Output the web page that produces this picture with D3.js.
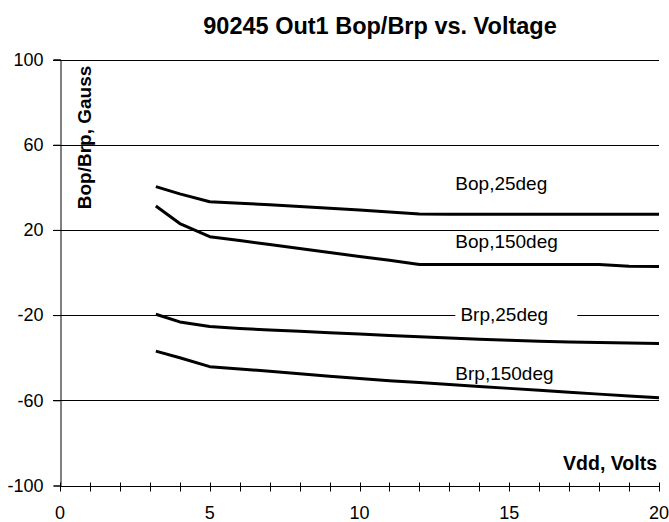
<!DOCTYPE html>
<html lang="en">
<head>
    <meta charset="UTF-8">
    <style>
        body { margin: 0; background: #fff; }
        text { font-family: "Liberation Sans", Arial, sans-serif; }
    </style>
</head>
<body>
    <script src="https://d3js.org/d3.v7.min.js"></script>
    <div id="here"></div>

    <script>
        const vdd = [3.2, 4, 5, 6, 7, 8, 9, 10, 11, 12, 13, 14, 15, 16, 17, 18, 19, 20];
        const bop25  = [40.3, 36.9, 33.2, 32.5, 31.8, 31.0, 30.2, 29.3, 28.4, 27.5, 27.4, 27.3, 27.3, 27.3, 27.3, 27.3, 27.3, 27.3];
        const bop150 = [31.2, 23.0, 16.8, 15.0, 13.1, 11.3, 9.4, 7.5, 5.7, 3.8, 3.8, 3.8, 3.8, 3.8, 3.8, 3.7, 2.9, 2.8];
        const brp25  = [-19.6, -23.2, -25.4, -26.3, -27.0, -27.6, -28.3, -28.9, -29.6, -30.2, -30.8, -31.3, -31.8, -32.3, -32.6, -32.9, -33.1, -33.3];
        const brp150 = [-36.9, -40.0, -44.2, -45.3, -46.4, -47.5, -48.7, -49.8, -50.8, -51.7, -52.6, -53.5, -54.4, -55.3, -56.2, -57.1, -58.0, -58.8];

        const seriesNames = ["Bop,25deg", "Bop,150deg", "Brp,25deg", "Brp,150deg"];
        const seriesValues = [bop25, bop150, brp25, brp150];
        // where each label sits, in data units (volts, gauss)
        const labelVdd = [13.2, 13.2, 13.37, 13.2];
        const labelGauss = [38.7, 11.4, -23, -50.5];

        const yTicks = [-100, -60, -20, 20, 60, 100];
        const xTicks = [0, 5, 10, 15, 20];

        const W = 669, H = 522;
        const margin = {top: 59.5, right: 10, bottom: 36.5, left: 60};

        const svg = d3.select("#here")
            .append("svg")
                .attr("width", W)
                .attr("height", H);

        const x = d3.scaleLinear()
            .domain([0, 20])
            .range([margin.left, W - margin.right]);

        const y = d3.scaleLinear()
            .domain([-100, 100])
            .range([H - margin.bottom, margin.top]);

        // title
        svg.append("text")
            .attr("x", 380)
            .attr("y", 34)
            .attr("text-anchor", "middle")
            .style("font-size", "23.5px")
            .style("font-weight", "bold")
            .text("90245 Out1 Bop/Brp vs. Voltage");

        // horizontal gridlines
        svg.append("g")
            .selectAll("line")
            .data(yTicks.filter(d => d > -100))
            .join("line")
                .attr("x1", margin.left - 7)
                .attr("x2", x(20))
                .attr("y1", d => Math.round(y(d)) + 0.5)
                .attr("y2", d => Math.round(y(d)) + 0.5)
                .attr("stroke", "#000")
                .attr("stroke-width", 1);

        // y axis (plain hyphen minus like the original)
        const yAxis = svg.append("g")
            .attr("transform", `translate(${margin.left + 0.5},0)`)
            .call(d3.axisLeft(y).tickValues(yTicks).tickSize(7).tickPadding(10).tickFormat(d => String(d)));
        yAxis.select(".domain").attr("stroke", "#000");
        yAxis.selectAll("text")
            .style("font-size", "18px")
            .attr("fill", "#000");

        // x axis with crossing minor ticks
        const xAxisY = Math.round(y(-100)) + 0.5;
        const xAxis = svg.append("g")
            .attr("transform", `translate(0,${xAxisY})`);
        xAxis.append("line")
            .attr("x1", x(0)).attr("x2", x(20))
            .attr("stroke", "#000");
        xAxis.selectAll("line.tk")
            .data(d3.range(0, 21))
            .join("line")
                .attr("class", "tk")
                .attr("x1", d => Math.round(x(d)) + 0.5)
                .attr("x2", d => Math.round(x(d)) + 0.5)
                .attr("y1", -4)
                .attr("y2", 5)
                .attr("stroke", "#000");
        xAxis.selectAll("text")
            .data(xTicks)
            .join("text")
                .attr("x", d => x(d))
                .attr("y", 32)
                .attr("text-anchor", "middle")
                .style("font-size", "18px")
                .text(d => d);

        // axis titles
        svg.append("text")
            .attr("transform", `translate(91,137.5) rotate(-90)`)
            .attr("text-anchor", "middle")
            .style("font-size", "19px")
            .style("font-weight", "bold")
            .text("Bop/Brp, Gauss");

        svg.append("text")
            .attr("x", 657)
            .attr("y", 470)
            .attr("text-anchor", "end")
            .style("font-size", "19.5px")
            .style("font-weight", "bold")
            .text("Vdd, Volts");

        // curves
        const line = d3.line()
            .x(d => x(d[0]))
            .y(d => y(d[1]));

        svg.append("g")
            .selectAll("path")
            .data(seriesValues)
            .join("path")
                .attr("d", vals => line(vdd.map((v, i) => [v, vals[i]])))
                .attr("fill", "none")
                .attr("stroke", "#000")
                .attr("stroke-width", 3)
                .attr("stroke-linejoin", "round");

        // series labels; Brp,25deg sits on the -20 gridline with a white box
        const labels = svg.append("g")
            .selectAll("g")
            .data(seriesNames)
            .join("g");

        labels.filter((d, i) => i === 2)
            .append("rect")
                .attr("x", x(13.2))
                .attr("y", y(-20) - 6)
                .attr("width", x(17.27) - x(13.2))
                .attr("height", 12)
                .attr("fill", "#fff");

        labels.append("text")
            .attr("x", (d, i) => x(labelVdd[i]))
            .attr("y", (d, i) => y(labelGauss[i]))
            .style("font-size", "19px")
            .text(d => d);
    </script>
</body>
</html>
